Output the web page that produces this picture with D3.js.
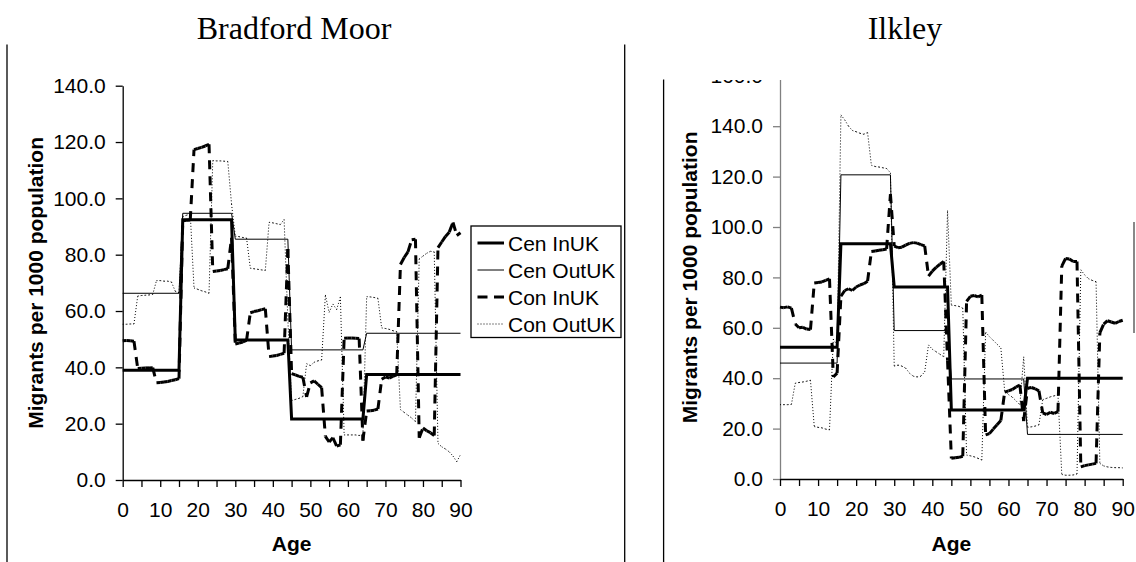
<!DOCTYPE html>
<html>
<head>
<meta charset="utf-8">
<script src="https://cdn.jsdelivr.net/npm/d3@7"></script>
<style>
  body { margin: 0; background: #fff; }
  svg { display: block; }
</style>
</head>
<body>
<svg id="page" width="1136" height="562"></svg>
<script>
// Ages 0..90 (categories)
const ages = [0,1,2,3,4,5,6,7,8,9,10,11,12,13,14,15,16,17,18,19,20,21,22,23,24,25,26,27,28,29,
  30,31,32,33,34,35,36,37,38,39,40,41,42,43,44,45,46,47,48,49,50,51,52,53,54,55,56,57,58,59,
  60,61,62,63,64,65,66,67,68,69,70,71,72,73,74,75,76,77,78,79,80,81,82,83,84,85,86,87,88,89,90];

// Census series: step corners (age, value)
const cenAges = [0, 15, 16, 29, 30, 44, 45, 64, 65, 90];
const bmCenInUK  = [39.0, 39.0, 92.4, 92.4, 49.7, 49.7, 21.7, 21.7, 37.5, 37.5];
const bmCenOutUK = [66.3, 66.3, 94.7, 94.7, 85.5, 85.5, 46.2, 46.2, 52.1, 52.1];
const ilCenInUK  = [52.3, 52.3, 93.4, 93.4, 76.2, 76.2, 27.4, 27.4, 40.0, 40.0];
const ilCenOutUK = [46.0, 46.0, 120.7, 120.7, 58.9, 58.9, 39.7, 39.7, 17.7, 17.7];

// Con series, one value per age
const bmConInUK = [49.4,49.5,49.4,49.3, 39.6,39.7,39.8,39.8,39.9, 34.5,34.6,34.8,35.0,35.3,35.6,36.0,
  92.0,92.2,92.3, 117.3,117.7,118.1,118.6,119.2, 74.0,74.2,74.4,74.7,75.0, 86.0,
  48.3,48.6,49.0,49.6, 59.4,59.8,60.1,60.5,60.8, 43.8,44.0,44.2,44.6,45.0, 82.0,
  37.8,37.3,36.8,36.5, 29.5,34.5,35.2,34.0,32.8, 15.5,13.5,15.0,12.0,12.5,
  50.3,50.4,50.4,50.3,50.2, 14.0, 24.5,24.6,24.8,25.2, 35.8,36.6,36.2,36.8,37.3,
  76.5,79.0,81.0,85.3,85.5, 15.0,18.5,17.5,16.8,15.8, 82.5,84.5,86.5,88.0,91.5,86.8,87.8];
const bmConOutUK = [55.3,55.3,55.4,55.4, 65.3,65.5,65.6,65.7,65.9, 70.8,70.8,70.6,70.6,70.3, 67.0,66.5,
  93.5,94.0,94.5, 68.2,67.7,67.2,66.8,66.3, 113.4,113.3,113.3,113.2,113.1, 98.0,
  86.6,86.4,86.1,85.9, 75.2,75.0,74.8,74.6,74.4, 91.5,91.3,91.0,90.7,92.5, 57.0,
  28.2,28.6,29.0,29.6, 41.3,40.6,41.8,42.3,42.6, 65.7,59.5,62.5,60.5,65.0,
  16.0,16.0,16.0,16.0,15.8,16.2, 65.1,65.0,64.8,64.5, 54.0,53.8,53.5,53.0,52.7,
  25.0,24.0,23.0,22.0,20.7, 78.5,79.5,80.5,81.2,81.0, 13.0,11.8,11.0,10.0,8.5,6.5,9.0];
const ilConInUK = [68.2,68.0,68.3,67.8, 61.5,60.0,60.2,59.5,59.3, 77.8,78.0,78.2,78.8,79.4, 40.5,42.0,
  72.5,74.8,75.5,74.8,76.2,77.0,77.5,78.5, 90.3,90.5,90.8,91.0,91.3, 113.0,
  92.4,91.8,92.0,92.8,93.5,93.8,93.6,93.0,92.5, 80.5,82.5,84.0,85.2,86.3, 47.0,
  8.2,8.4,8.6,9.0, 70.5,72.5,72.8,72.3,73.0, 17.5,18.0,19.8,21.5,23.2,
  34.5,35.0,35.5,36.5,37.3, 23.0, 36.0,36.3,35.8,35.0, 26.2,25.6,26.5,26.0,26.7,
  84.5,87.5,87.3,86.3,86.3, 4.8,5.3,5.6,5.9,6.2, 58.0,61.5,62.8,62.3,61.8,62.5,63.0];
const ilConOutUK = [29.5,29.5,29.5,29.6, 38.0,38.3,38.5,38.8,39.2, 20.8,20.5,20.3,19.8,19.5, 55.5,53.0,
  144.5,142.5,140.0,138.3,137.8,137.2,136.8,137.5, 124.5,124.0,123.8,123.5,123.2,121.5,
  44.8,45.2,44.8,44.0, 42.0,40.8,40.5,40.8,42.5, 53.2,51.5,50.5,49.5,48.5, 106.5,
  69.0,68.8,68.5,67.8, 9.5,9.2,8.8,8.2,7.5, 58.3,56.5,55.0,53.5,52.0,
  35.0,33.5,32.5,31.0,29.5, 48.5, 20.5,20.7,21.0,21.5, 31.5,32.0,32.6,33.0,33.4,
  1.8,1.5,1.5,1.6,2.0, 83.0,81.0,79.5,78.8,78.3, 6.2,5.2,4.8,4.6,4.5,4.5,4.4];

const xTicks = [0,5,10,15,20,25,30,35,40,45,50,55,60,65,70,75,80,85,90];
const legendNames = ["Cen InUK", "Cen OutUK", "Con InUK", "Con OutUK"];

const FONT = "'Liberation Sans', Arial, sans-serif";
const svg = d3.select("#page");

// line styles for the four series
const styles = [
  { width: 3, dash: null },
  { width: 1, dash: null },
  { width: 3, dash: "9,7" },
  { width: 1, dash: "1,2" }
];

// page frame lines
svg.append("line").attr("x1", 7).attr("x2", 7).attr("y1", 44.6).attr("y2", 562)
  .attr("stroke", "#000").attr("stroke-width", 1.3);
svg.append("line").attr("x1", 624.7).attr("x2", 624.7).attr("y1", 44.6).attr("y2", 562)
  .attr("stroke", "#000").attr("stroke-width", 1.3);
svg.append("line").attr("x1", 663.6).attr("x2", 663.6).attr("y1", 79.6).attr("y2", 562)
  .attr("stroke", "#000").attr("stroke-width", 1.3);

function drawChart(cfg) {
  const g = svg.append("g");
  if (cfg.clipTop) {
    svg.append("clipPath").attr("id", "clip" + cfg.id)
      .append("rect").attr("x", 600).attr("y", cfg.clipTop).attr("width", 536).attr("height", 562);
    g.attr("clip-path", `url(#clip${cfg.id})`);
  }

  const x = d3.scaleLinear().domain([0, 90]).range([cfg.x0, cfg.x1]);
  const y = d3.scaleLinear().domain([0, cfg.yMax]).range([cfg.yBot, cfg.yTop]);

  // Y axis
  const yAxis = g.append("g")
    .attr("transform", `translate(${cfg.x0},0)`)
    .call(d3.axisLeft(y).tickValues(cfg.yTicks).tickFormat(d3.format(".1f"))
      .tickSize(7).tickSizeOuter(0).tickPadding(10));
  yAxis.select(".domain").attr("stroke", cfg.yAxisColor).attr("stroke-width", 1.3);
  yAxis.selectAll(".tick line").attr("stroke", cfg.yAxisColor).attr("stroke-width", 1.3);
  yAxis.selectAll("text").style("font-family", FONT).style("font-size", "21px").attr("fill", "#000");

  // X axis
  const xAxis = g.append("g")
    .attr("transform", `translate(0,${cfg.yBot})`)
    .call(d3.axisBottom(x).tickValues(xTicks).tickFormat(d => d % 10 === 0 ? d : "")
      .tickSize(7).tickSizeOuter(0).tickPadding(15));
  xAxis.select(".domain").attr("stroke", "#000").attr("stroke-width", 1.3);
  xAxis.selectAll(".tick line").attr("stroke", "#000").attr("stroke-width", 1.3);
  xAxis.selectAll("text").style("font-family", FONT).style("font-size", "21px").attr("fill", "#000");

  // Census step lines
  const line = d3.line().x(d => x(d[0])).y(d => y(d[1]));
  [cfg.cenIn, cfg.cenOut].forEach((vals, i) => {
    const pts = cenAges.map((a, k) => [a, vals[k]]);
    g.append("path").datum(pts)
      .attr("fill", "none").attr("stroke", "#000")
      .attr("stroke-width", styles[i].width)
      .attr("stroke-linejoin", "miter")
      .attr("d", line);
  });

  // Con lines: one path per year so the dash pattern restarts each segment
  [cfg.conIn, cfg.conOut].forEach((vals, i) => {
    const st = styles[i + 2];
    const segs = d3.pairs(ages.map((a, k) => [a, vals[k]]));
    g.append("g").selectAll("path").data(segs).join("path")
      .attr("fill", "none").attr("stroke", "#000")
      .attr("stroke-width", st.width)
      .attr("stroke-dasharray", st.dash)
      .attr("d", d => line(d));
  });

  // Axis titles
  g.append("text")
    .attr("transform", `translate(${cfg.ylabelX},${(cfg.yBot + cfg.yTop) / 2}) rotate(-90)`)
    .attr("text-anchor", "middle").attr("dominant-baseline", "central")
    .style("font-family", FONT).style("font-size", "21px").style("font-weight", "bold")
    .text("Migrants per 1000 population");

  g.append("text")
    .attr("x", (cfg.x0 + cfg.x1) / 2).attr("y", 551)
    .attr("text-anchor", "middle")
    .style("font-family", FONT).style("font-size", "21px").style("font-weight", "bold")
    .text("Age");

  // Title above the chart
  svg.append("text")
    .attr("x", cfg.titleX).attr("y", 39)
    .attr("text-anchor", "middle")
    .style("font-family", "'Liberation Serif', 'Times New Roman', serif")
    .style("font-size", "32px")
    .text(cfg.title);

  return g;
}

drawChart({
  id: "bm", title: "Bradford Moor", titleX: 294,
  x0: 122.7, x1: 460.5, yBot: 480, yTop: 85.7, yMax: 140,
  yTicks: [0, 20, 40, 60, 80, 100, 120, 140],
  yAxisColor: "#000", ylabelX: 35,
  cenIn: bmCenInUK, cenOut: bmCenOutUK, conIn: bmConInUK, conOut: bmConOutUK
});

drawChart({
  id: "il", title: "Ilkley", titleX: 905,
  x0: 780, x1: 1122.7, yBot: 479, yTop: 75.8, yMax: 160, clipTop: 80,
  yTicks: [0, 20, 40, 60, 80, 100, 120, 140, 160],
  yAxisColor: "#808080", ylabelX: 689,
  cenIn: ilCenInUK, cenOut: ilCenOutUK, conIn: ilConInUK, conOut: ilConOutUK
});

// Legend (Bradford Moor)
const legend = svg.append("g");
legend.append("rect")
  .attr("x", 471).attr("y", 226).attr("width", 150).attr("height", 111.5)
  .attr("fill", "#fff").attr("stroke", "#000").attr("stroke-width", 1.3);
legendNames.forEach((name, i) => {
  const cy = 243 + i * 27;
  legend.append("line")
    .attr("x1", 477.5).attr("x2", 504).attr("y1", cy).attr("y2", cy)
    .attr("stroke", "#000").attr("stroke-width", styles[i].width)
    .attr("stroke-dasharray", i === 2 ? "10,6.5" : styles[i].dash);
  legend.append("text")
    .attr("x", 508).attr("y", cy).attr("dominant-baseline", "central")
    .style("font-family", FONT).style("font-size", "21px")
    .text(name);
});

// edge of the Ilkley legend, cut off by the page
svg.append("line").attr("x1", 1134).attr("x2", 1134).attr("y1", 222).attr("y2", 333)
  .attr("stroke", "#888").attr("stroke-width", 2);
</script>
</body>
</html>
